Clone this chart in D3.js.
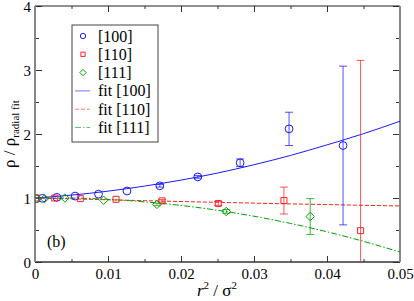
<!DOCTYPE html>
<html>
<head>
<meta charset="utf-8">
<script src="https://cdn.jsdelivr.net/npm/d3@7"></script>
<style>
  body { margin: 0; background: #fff; }
  svg text { font-family: 'Liberation Serif', 'Times New Roman', serif; fill: #000; }
</style>
</head>
<body>
<svg id="chart" width="414" height="301"></svg>
<script>
// ---------------- data ----------------
// [100] points: r^2/sigma^2, rho ratio, error
const x100 = [0.0002, 0.001, 0.003, 0.0055, 0.0087, 0.0126, 0.0171, 0.0223, 0.0281, 0.0348, 0.0422];
const y100 = [0.99, 0.995, 1.01, 1.03, 1.06, 1.11, 1.19, 1.33, 1.55, 2.08, 1.82];
const e100 = [0, 0, 0, 0, 0, 0, 0.02, 0.02, 0.06, 0.26, 1.24];

const x110 = [0.0002, 0.0027, 0.0062, 0.0111, 0.0174, 0.0251, 0.0341, 0.0446];
const y110 = [1.0, 1.0, 0.99, 0.98, 0.955, 0.915, 0.96, 0.49];
const e110 = [0, 0, 0, 0, 0.02, 0.03, 0.21, 2.66];

const x111 = [0.0002, 0.0013, 0.0041, 0.0094, 0.0167, 0.0262, 0.0377];
const y111 = [0.99, 0.99, 1.0, 0.965, 0.9, 0.79, 0.71];
const e111 = [0, 0, 0, 0, 0.02, 0.03, 0.28];

// fit curves
const xFit = [0, 0.005, 0.01, 0.015, 0.02, 0.025, 0.03, 0.035, 0.04, 0.045, 0.05];
const fit100 = [1.0, 1.045, 1.107, 1.186, 1.28, 1.39, 1.52, 1.665, 1.83, 2.005, 2.2];
const fit110 = [1.0, 0.986, 0.972, 0.958, 0.945, 0.932, 0.92, 0.908, 0.897, 0.886, 0.876];
const fit111 = [1.0, 0.999, 0.979, 0.94, 0.884, 0.808, 0.715, 0.603, 0.472, 0.323, 0.155];

const xTicks = [0, 0.01, 0.02, 0.03, 0.04, 0.05];
const yTicks = [0, 1, 2, 3, 4];
const legendLabels = ["[100]", "[110]", "[111]", "fit [100]", "fit [110]", "fit [111]"];

/*------------------- layout --------------------*/
const plot = { left: 35, right: 400, top: 6, bottom: 262 };
const serif = "Liberation Serif";
const svg = d3.select("#chart");

const xScale = d3.scaleLinear().domain([0, 0.05]).range([plot.left, plot.right]);
const yScale = d3.scaleLinear().domain([0, 4]).range([plot.bottom, plot.top]);

const blue = "#1a1aff", red = "#ff2020", green = "#00a000";

svg.append("clipPath").attr("id", "clip")
    .append("rect")
    .attr("x", plot.left).attr("y", plot.top)
    .attr("width", plot.right - plot.left).attr("height", plot.bottom - plot.top);

/*------------------- axes --------------------*/
const minorX = d3.range(0, 0.0501, 0.005);
const minorY = d3.range(0, 4.01, 0.5);

function tickAxis(axisFn, scale, pos, values, size, labels) {
    const g = svg.append("g")
        .attr("transform", pos)
        .call(axisFn(scale).tickValues(values).tickSize(size).tickSizeOuter(0)
            .tickFormat(labels ? d3.format("") : ""));
    g.attr("font-family", serif);
    g.select(".domain").remove();
    g.selectAll("line").attr("stroke", "#333");
    return g;
}

// bottom
tickAxis(d3.axisBottom, xScale, `translate(0,${plot.bottom})`, minorX, -3, false);
const bx = tickAxis(d3.axisBottom, xScale, `translate(0,${plot.bottom})`, xTicks, -6, true);
bx.selectAll("text").attr("font-size", 15).attr("dy", "0.95em")
    .text(d => d === 0 ? "0" : d3.format(".2f")(d));
// top
tickAxis(d3.axisTop, xScale, `translate(0,${plot.top})`, minorX, -3, false);
tickAxis(d3.axisTop, xScale, `translate(0,${plot.top})`, xTicks, -6, false);
// left
tickAxis(d3.axisLeft, yScale, `translate(${plot.left},0)`, minorY, -4, false);
const ly = tickAxis(d3.axisLeft, yScale, `translate(${plot.left},0)`, yTicks, -7, true);
ly.selectAll("text").attr("font-size", 15).attr("x", -4).attr("dy", "0.34em");
// right
tickAxis(d3.axisRight, yScale, `translate(${plot.right},0)`, minorY, -4, false);
tickAxis(d3.axisRight, yScale, `translate(${plot.right},0)`, yTicks, -7, false);

// frame
svg.append("line").attr("x1", plot.left).attr("x2", plot.right)
    .attr("y1", plot.top).attr("y2", plot.top).attr("stroke", "#222").attr("stroke-width", 1.2);
svg.append("line").attr("x1", plot.left).attr("x2", plot.right)
    .attr("y1", plot.bottom).attr("y2", plot.bottom).attr("stroke", "#333").attr("stroke-width", 1.5);
svg.append("line").attr("x1", plot.left).attr("x2", plot.left)
    .attr("y1", plot.top).attr("y2", plot.bottom).attr("stroke", "#888").attr("stroke-width", 2);
svg.append("line").attr("x1", plot.right).attr("x2", plot.right)
    .attr("y1", plot.top).attr("y2", plot.bottom).attr("stroke", "#888").attr("stroke-width", 2);

// axis titles
svg.append("text")
    .attr("x", 217).attr("y", 296)
    .attr("text-anchor", "middle").attr("font-size", 17)
    .html('<tspan font-style="italic">r</tspan><tspan dy="-7" font-size="11">2</tspan><tspan dy="7"> / σ</tspan><tspan dy="-7" font-size="11">2</tspan>');

svg.append("text")
    .attr("transform", `translate(14.5,${(plot.top + plot.bottom) / 2}) rotate(-90)`)
    .attr("text-anchor", "middle").attr("font-size", 17)
    .html('ρ / ρ<tspan dy="4" font-size="11">radial fit</tspan>');

/*------------------- fits --------------------*/
const plotArea = svg.append("g").attr("clip-path", "url(#clip)");

const fitLine = d3.line()
    .x((d, i) => xScale(xFit[i]))
    .y(d => yScale(d))
    .curve(d3.curveMonotoneX);

plotArea.append("path").datum(fit100).attr("d", fitLine)
    .attr("fill", "none").attr("stroke", blue).attr("stroke-width", 1);
plotArea.append("path").datum(fit110).attr("d", fitLine)
    .attr("fill", "none").attr("stroke", red).attr("stroke-width", 1)
    .attr("stroke-dasharray", "4,2");
plotArea.append("path").datum(fit111).attr("d", fitLine)
    .attr("fill", "none").attr("stroke", green).attr("stroke-width", 1)
    .attr("stroke-dasharray", "6,2,1.5,2");

/*------------------- points + error bars --------------------*/
function series(xs, ys, es, color, shape) {
    const pts = xs.map((x, i) => ({ x: x, y: ys[i], e: es[i] }));
    const g = plotArea.append("g");

    const eb = g.selectAll(".eb").data(pts.filter(d => d.e > 0)).enter().append("g");
    eb.append("line")
        .attr("x1", d => xScale(d.x)).attr("x2", d => xScale(d.x))
        .attr("y1", d => yScale(d.y + d.e)).attr("y2", d => yScale(d.y - d.e))
        .attr("stroke", color).attr("stroke-width", 1).attr("opacity", 0.75);
    [1, -1].forEach(s => {
        eb.append("line")
            .attr("x1", d => xScale(d.x) - 4).attr("x2", d => xScale(d.x) + 4)
            .attr("y1", d => yScale(d.y + s * d.e)).attr("y2", d => yScale(d.y + s * d.e))
            .attr("stroke", color).attr("stroke-width", 1).attr("opacity", 0.75);
    });

    g.selectAll(".pt").data(pts).enter().append("path")
        .attr("transform", d => `translate(${xScale(d.x)},${yScale(d.y)})`)
        .attr("d", shape)
        .attr("fill", "none").attr("stroke", color).attr("stroke-width", 1);
}

const circle = d3.symbol().type(d3.symbolCircle).size(48)();
const square = d3.symbol().type(d3.symbolSquare).size(36)();
const diamond = "M0,-4.2L4.2,0L0,4.2L-4.2,0Z";

series(x100, y100, e100, blue, circle);
series(x110, y110, e110, red, square);
series(x111, y111, e111, green, diamond);

/*------------------- legend --------------------*/
const legend = svg.append("g").attr("transform", "translate(72,25)");
legend.append("rect").attr("width", 86).attr("height", 117)
    .attr("fill", "#fff").attr("stroke", "#444").attr("stroke-width", 1);

const legendMarks = [
    { color: blue, shape: d3.symbol().type(d3.symbolCircle).size(22)() },
    { color: red, shape: d3.symbol().type(d3.symbolSquare).size(18)() },
    { color: green, shape: "M0,-3.2L3.2,0L0,3.2L-3.2,0Z" },
    { color: blue, dash: null },
    { color: red, dash: "4,2" },
    { color: green, dash: "6,2,1.5,2" }
];

legendLabels.forEach((lab, i) => {
    const y = 11 + i * 18.3;
    const m = legendMarks[i];
    if (m.shape) {
        legend.append("path").attr("transform", `translate(11,${y})`)
            .attr("d", m.shape).attr("fill", "none").attr("stroke", m.color);
    } else {
        legend.append("line").attr("x1", 3).attr("x2", 18).attr("y1", y).attr("y2", y)
            .attr("stroke", m.color).attr("stroke-width", 1).attr("opacity", 0.6)
            .attr("stroke-dasharray", m.dash);
    }
    legend.append("text").attr("x", 26).attr("y", y + 5.5)
        .attr("font-size", 16).text(lab);
});

// panel tag
svg.append("text").attr("x", 47).attr("y", 247).attr("font-size", 16).text("(b)");
</script>
</body>
</html>
